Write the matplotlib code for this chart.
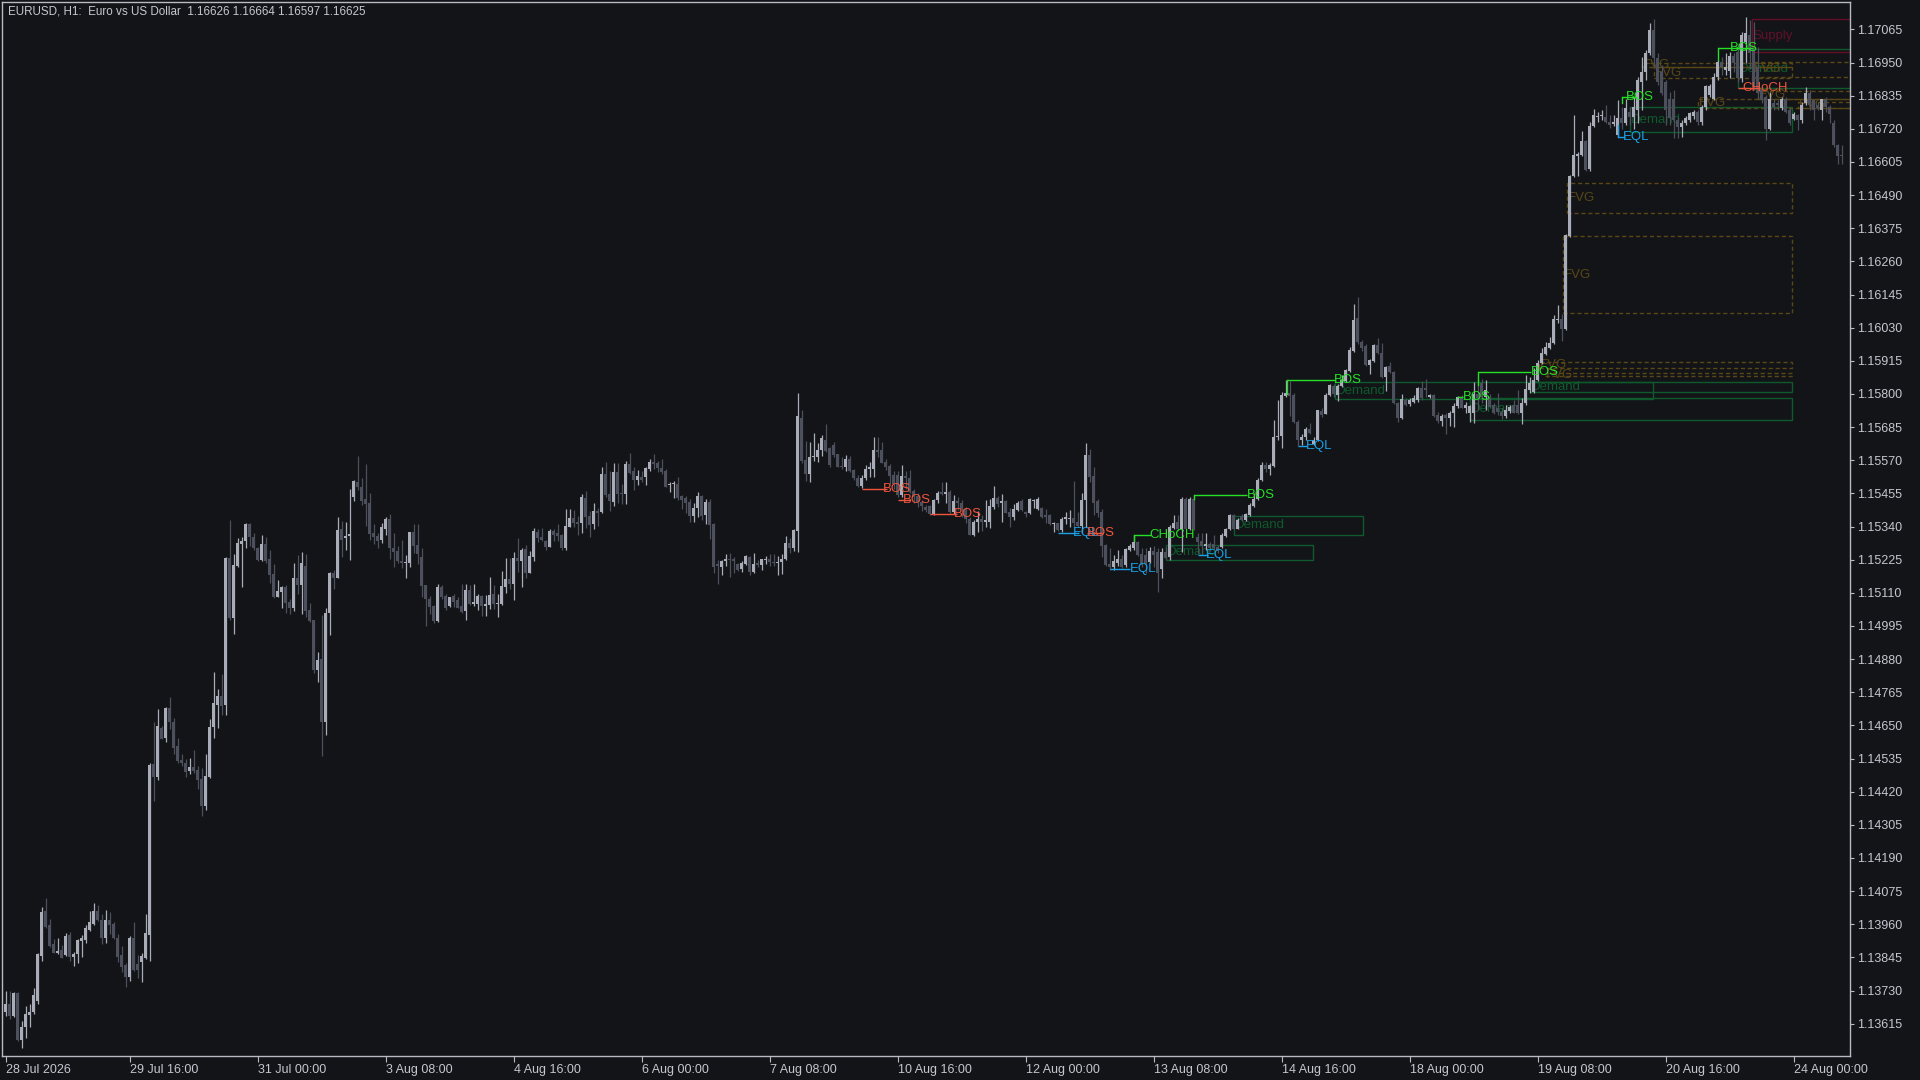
import matplotlib
matplotlib.use("Agg")
import matplotlib.pyplot as plt
import numpy as np
import pandas as pd
from matplotlib.patches import Rectangle

# ---------------- data ----------------
symbol_title = "EURUSD, H1:  Euro vs US Dollar  1.16626 1.16664 1.16597 1.16625"
first_bar_time = "2026-07-28 09:00"

opens = [
 1.13654, 1.13683, 1.13642, 1.13722, 1.13559, 1.13602, 1.13645, 1.13654, 1.13694, 1.13850,
 1.14005, 1.13958, 1.13892, 1.13861, 1.13871, 1.13852, 1.13923, 1.13846, 1.13858, 1.13903,
 1.13905, 1.13939, 1.13960, 1.14005, 1.13976, 1.13911, 1.13974, 1.13960, 1.13914, 1.13852,
 1.13818, 1.13778, 1.13914, 1.13821, 1.13828, 1.13844, 1.13923, 1.14515, 1.14471, 1.14642,
 1.14608, 1.14711, 1.14661, 1.14577, 1.14531, 1.14521, 1.14493, 1.14505, 1.14494, 1.14463,
 1.14369, 1.14472, 1.14643, 1.14720, 1.14752, 1.14720, 1.15231, 1.15023, 1.15203, 1.15281,
 1.15291, 1.15348, 1.15304, 1.15264, 1.15223, 1.15281, 1.15229, 1.15175, 1.15096, 1.15114,
 1.15129, 1.15077, 1.15059, 1.15163, 1.15137, 1.15203, 1.15050, 1.15015, 1.14844, 1.14879,
 1.14662, 1.15041, 1.15180, 1.15163, 1.15330, 1.15299, 1.15307, 1.15443, 1.15495, 1.15478,
 1.15434, 1.15422, 1.15316, 1.15307, 1.15293, 1.15333, 1.15365, 1.15267, 1.15256, 1.15221,
 1.15214, 1.15214, 1.15322, 1.15276, 1.15235, 1.15137, 1.15087, 1.15064, 1.15013, 1.15131,
 1.15099, 1.15064, 1.15099, 1.15085, 1.15064, 1.15048, 1.15120, 1.15071, 1.15071, 1.15099,
 1.15064, 1.15068, 1.15106, 1.15071, 1.15071, 1.15129, 1.15157, 1.15140, 1.15230, 1.15221,
 1.15261, 1.15180, 1.15235, 1.15322, 1.15305, 1.15291, 1.15270, 1.15326, 1.15319, 1.15311,
 1.15264, 1.15339, 1.15368, 1.15357, 1.15353, 1.15438, 1.15376, 1.15349, 1.15395, 1.15391,
 1.15522, 1.15453, 1.15426, 1.15530, 1.15457, 1.15453, 1.15557, 1.15534, 1.15501, 1.15511,
 1.15513, 1.15538, 1.15565, 1.15562, 1.15542, 1.15534, 1.15484, 1.15488, 1.15488, 1.15446,
 1.15438, 1.15426, 1.15376, 1.15403, 1.15445, 1.15379, 1.15426, 1.15348, 1.15209, 1.15200,
 1.15221, 1.15229, 1.15226, 1.15209, 1.15191, 1.15209, 1.15235, 1.15183, 1.15212, 1.15206,
 1.15223, 1.15229, 1.15217, 1.15214, 1.15217, 1.15229, 1.15283, 1.15264, 1.15325, 1.15718,
 1.15570, 1.15522, 1.15580, 1.15582, 1.15605, 1.15642, 1.15611, 1.15622, 1.15591, 1.15550,
 1.15545, 1.15576, 1.15536, 1.15510, 1.15480, 1.15507, 1.15541, 1.15541, 1.15605, 1.15605,
 1.15565, 1.15550, 1.15518, 1.15518, 1.15449, 1.15515, 1.15510, 1.15464, 1.15445, 1.15426,
 1.15408, 1.15411, 1.15384, 1.15432, 1.15461, 1.15453, 1.15461, 1.15392, 1.15427, 1.15423,
 1.15400, 1.15365, 1.15311, 1.15357, 1.15365, 1.15357, 1.15357, 1.15407, 1.15438, 1.15421,
 1.15430, 1.15392, 1.15372, 1.15398, 1.15427, 1.15392, 1.15386, 1.15430, 1.15400, 1.15403,
 1.15380, 1.15380, 1.15349, 1.15351, 1.15328, 1.15365, 1.15365, 1.15369, 1.15357, 1.15342,
 1.15432, 1.15589, 1.15516, 1.15427, 1.15392, 1.15276, 1.15210, 1.15201, 1.15215, 1.15226,
 1.15207, 1.15259, 1.15265, 1.15288, 1.15245, 1.15241, 1.15218, 1.15256, 1.15250, 1.15194,
 1.15252, 1.15235, 1.15336, 1.15356, 1.15333, 1.15437, 1.15333, 1.15434, 1.15304, 1.15290,
 1.15272, 1.15281, 1.15281, 1.15269, 1.15269, 1.15306, 1.15330, 1.15379, 1.15333, 1.15376,
 1.15362, 1.15379, 1.15411, 1.15437, 1.15501, 1.15553, 1.15541, 1.15549, 1.15649, 1.15653,
 1.15792, 1.15802, 1.15796, 1.15703, 1.15642, 1.15651, 1.15680, 1.15628, 1.15640, 1.15741,
 1.15732, 1.15796, 1.15827, 1.15796, 1.15827, 1.15846, 1.15880, 1.15950, 1.16062, 1.15981,
 1.15966, 1.15900, 1.15915, 1.15969, 1.15943, 1.15860, 1.15897, 1.15877, 1.15767, 1.15715,
 1.15779, 1.15765, 1.15773, 1.15779, 1.15819, 1.15819, 1.15791, 1.15796, 1.15727, 1.15707,
 1.15727, 1.15715, 1.15733, 1.15758, 1.15791, 1.15753, 1.15735, 1.15735, 1.15800, 1.15837,
 1.15791, 1.15791, 1.15762, 1.15750, 1.15738, 1.15723, 1.15742, 1.15762, 1.15762, 1.15735,
 1.15767, 1.15814, 1.15808, 1.15848, 1.15906, 1.15939, 1.15958, 1.15976, 1.16057, 1.16059,
 1.16024, 1.16348, 1.16556, 1.16626, 1.16629, 1.16676, 1.16580, 1.16730, 1.16760, 1.16765,
 1.16760, 1.16745, 1.16737, 1.16699, 1.16759, 1.16739, 1.16780, 1.16762, 1.16785, 1.16883,
 1.16918, 1.16982, 1.17063, 1.16964, 1.16918, 1.16883, 1.16825, 1.16822, 1.16750, 1.16725,
 1.16739, 1.16750, 1.16764, 1.16779, 1.16744, 1.16794, 1.16837, 1.16825, 1.16901, 1.16953,
 1.16924, 1.16921, 1.16972, 1.16987, 1.16895, 1.17022, 1.17045, 1.16999, 1.16935, 1.16854,
 1.16829, 1.16721, 1.16810, 1.16810, 1.16791, 1.16825, 1.16785, 1.16753, 1.16768, 1.16750,
 1.16808, 1.16845, 1.16820, 1.16802, 1.16787, 1.16825, 1.16797, 1.16739, 1.16663, 1.16626,
]

highs = [
 1.13728, 1.13728, 1.13726, 1.13725, 1.13626, 1.13675, 1.13683, 1.13738, 1.13861, 1.14020,
 1.14051, 1.13980, 1.13910, 1.13914, 1.13889, 1.13930, 1.13933, 1.13865, 1.13910, 1.13923,
 1.13958, 1.14007, 1.14034, 1.14026, 1.13995, 1.14010, 1.14001, 1.13968, 1.13927, 1.13883,
 1.13824, 1.13921, 1.13968, 1.13852, 1.13859, 1.13995, 1.14518, 1.14661, 1.14707, 1.14649,
 1.14713, 1.14748, 1.14676, 1.14608, 1.14550, 1.14534, 1.14537, 1.14565, 1.14509, 1.14503,
 1.14550, 1.14674, 1.14837, 1.14775, 1.14827, 1.15236, 1.15364, 1.15244, 1.15302, 1.15304,
 1.15353, 1.15351, 1.15318, 1.15270, 1.15310, 1.15304, 1.15260, 1.15210, 1.15156, 1.15133,
 1.15137, 1.15090, 1.15214, 1.15241, 1.15252, 1.15244, 1.15075, 1.15015, 1.14904, 1.15033,
 1.15059, 1.15183, 1.15189, 1.15372, 1.15360, 1.15357, 1.15472, 1.15500, 1.15584, 1.15507,
 1.15557, 1.15455, 1.15348, 1.15316, 1.15353, 1.15372, 1.15383, 1.15316, 1.15272, 1.15295,
 1.15241, 1.15322, 1.15348, 1.15348, 1.15267, 1.15137, 1.15099, 1.15067, 1.15142, 1.15137,
 1.15105, 1.15096, 1.15105, 1.15096, 1.15142, 1.15140, 1.15137, 1.15140, 1.15106, 1.15102,
 1.15102, 1.15164, 1.15137, 1.15106, 1.15187, 1.15230, 1.15230, 1.15253, 1.15302, 1.15264,
 1.15276, 1.15256, 1.15334, 1.15330, 1.15334, 1.15295, 1.15330, 1.15330, 1.15349, 1.15314,
 1.15400, 1.15400, 1.15397, 1.15376, 1.15453, 1.15464, 1.15395, 1.15423, 1.15403, 1.15545,
 1.15565, 1.15534, 1.15562, 1.15562, 1.15488, 1.15569, 1.15596, 1.15545, 1.15536, 1.15534,
 1.15548, 1.15573, 1.15592, 1.15569, 1.15573, 1.15538, 1.15496, 1.15499, 1.15511, 1.15449,
 1.15446, 1.15434, 1.15420, 1.15461, 1.15449, 1.15434, 1.15437, 1.15351, 1.15223, 1.15225,
 1.15244, 1.15249, 1.15235, 1.15214, 1.15221, 1.15240, 1.15237, 1.15249, 1.15223, 1.15229,
 1.15237, 1.15246, 1.15244, 1.15237, 1.15246, 1.15307, 1.15302, 1.15330, 1.15804, 1.15746,
 1.15637, 1.15634, 1.15665, 1.15630, 1.15657, 1.15695, 1.15617, 1.15634, 1.15591, 1.15580,
 1.15588, 1.15584, 1.15541, 1.15518, 1.15518, 1.15553, 1.15564, 1.15649, 1.15649, 1.15634,
 1.15573, 1.15556, 1.15533, 1.15533, 1.15553, 1.15533, 1.15536, 1.15472, 1.15457, 1.15429,
 1.15414, 1.15414, 1.15435, 1.15465, 1.15496, 1.15496, 1.15467, 1.15450, 1.15444, 1.15432,
 1.15407, 1.15374, 1.15363, 1.15395, 1.15380, 1.15432, 1.15435, 1.15481, 1.15446, 1.15453,
 1.15432, 1.15403, 1.15418, 1.15427, 1.15435, 1.15395, 1.15438, 1.15435, 1.15444, 1.15407,
 1.15400, 1.15384, 1.15357, 1.15354, 1.15372, 1.15392, 1.15398, 1.15499, 1.15392, 1.15455,
 1.15629, 1.15608, 1.15548, 1.15435, 1.15400, 1.15280, 1.15265, 1.15241, 1.15259, 1.15241,
 1.15265, 1.15280, 1.15311, 1.15291, 1.15265, 1.15265, 1.15268, 1.15273, 1.15265, 1.15264,
 1.15269, 1.15345, 1.15379, 1.15379, 1.15441, 1.15443, 1.15443, 1.15449, 1.15316, 1.15316,
 1.15316, 1.15287, 1.15310, 1.15275, 1.15316, 1.15336, 1.15385, 1.15385, 1.15368, 1.15385,
 1.15387, 1.15420, 1.15455, 1.15510, 1.15564, 1.15564, 1.15559, 1.15711, 1.15778, 1.15807,
 1.15848, 1.15846, 1.15802, 1.15709, 1.15660, 1.15686, 1.15700, 1.15649, 1.15746, 1.15753,
 1.15804, 1.15834, 1.15834, 1.15836, 1.15865, 1.15885, 1.15964, 1.16112, 1.16135, 1.15987,
 1.15973, 1.15923, 1.15975, 1.15993, 1.15977, 1.15897, 1.15912, 1.15881, 1.15773, 1.15800,
 1.15785, 1.15785, 1.15796, 1.15825, 1.15846, 1.15851, 1.15800, 1.15800, 1.15738, 1.15730,
 1.15735, 1.15742, 1.15770, 1.15793, 1.15796, 1.15773, 1.15762, 1.15843, 1.15854, 1.15851,
 1.15848, 1.15800, 1.15767, 1.15802, 1.15750, 1.15762, 1.15762, 1.15779, 1.15814, 1.15785,
 1.15866, 1.15858, 1.15889, 1.15918, 1.15958, 1.15981, 1.15999, 1.16074, 1.16109, 1.16078,
 1.16355, 1.16560, 1.16768, 1.16641, 1.16714, 1.16681, 1.16742, 1.16788, 1.16780, 1.16786,
 1.16803, 1.16768, 1.16768, 1.16820, 1.16797, 1.16825, 1.16797, 1.16829, 1.16901, 1.16970,
 1.16993, 1.17088, 1.17100, 1.16982, 1.16941, 1.16889, 1.16848, 1.16854, 1.16762, 1.16752,
 1.16764, 1.16779, 1.16785, 1.16785, 1.16802, 1.16872, 1.16875, 1.16912, 1.16958, 1.16970,
 1.16982, 1.16987, 1.16984, 1.17016, 1.17057, 1.17109, 1.17097, 1.17092, 1.17005, 1.16866,
 1.16837, 1.16848, 1.16825, 1.16820, 1.16831, 1.16829, 1.16791, 1.16779, 1.16773, 1.16814,
 1.16866, 1.16854, 1.16825, 1.16814, 1.16825, 1.16829, 1.16802, 1.16750, 1.16669, 1.16664,
]

lows = [
 1.13642, 1.13633, 1.13638, 1.13555, 1.13530, 1.13567, 1.13604, 1.13650, 1.13683, 1.13834,
 1.13948, 1.13880, 1.13859, 1.13856, 1.13842, 1.13850, 1.13834, 1.13815, 1.13824, 1.13848,
 1.13896, 1.13937, 1.13958, 1.13972, 1.13893, 1.13896, 1.13927, 1.13908, 1.13828, 1.13794,
 1.13741, 1.13762, 1.13799, 1.13772, 1.13759, 1.13840, 1.13834, 1.14389, 1.14459, 1.14602,
 1.14592, 1.14639, 1.14552, 1.14518, 1.14509, 1.14472, 1.14482, 1.14484, 1.14428, 1.14335,
 1.14357, 1.14468, 1.14608, 1.14642, 1.14686, 1.14686, 1.15017, 1.14967, 1.15199, 1.15131,
 1.15267, 1.15272, 1.15260, 1.15221, 1.15221, 1.15214, 1.15145, 1.15092, 1.15094, 1.15056,
 1.15041, 1.15038, 1.15048, 1.15105, 1.15038, 1.15027, 1.15009, 1.14832, 1.14801, 1.14543,
 1.14616, 1.14963, 1.15122, 1.15160, 1.15235, 1.15260, 1.15223, 1.15430, 1.15466, 1.15414,
 1.15341, 1.15295, 1.15279, 1.15264, 1.15284, 1.15310, 1.15226, 1.15200, 1.15214, 1.15195,
 1.15160, 1.15200, 1.15249, 1.15210, 1.15094, 1.14994, 1.15036, 1.15006, 1.15009, 1.15087,
 1.15052, 1.15061, 1.15061, 1.15056, 1.15041, 1.15015, 1.15068, 1.15064, 1.15050, 1.15029,
 1.15029, 1.15053, 1.15053, 1.15027, 1.15068, 1.15108, 1.15125, 1.15085, 1.15183, 1.15129,
 1.15160, 1.15178, 1.15221, 1.15287, 1.15291, 1.15258, 1.15268, 1.15291, 1.15291, 1.15258,
 1.15258, 1.15337, 1.15337, 1.15311, 1.15319, 1.15334, 1.15305, 1.15330, 1.15342, 1.15388,
 1.15444, 1.15395, 1.15411, 1.15420, 1.15418, 1.15418, 1.15522, 1.15467, 1.15484, 1.15496,
 1.15484, 1.15534, 1.15538, 1.15530, 1.15522, 1.15476, 1.15461, 1.15438, 1.15432, 1.15400,
 1.15386, 1.15357, 1.15357, 1.15372, 1.15362, 1.15348, 1.15298, 1.15179, 1.15140, 1.15171,
 1.15202, 1.15165, 1.15179, 1.15186, 1.15183, 1.15206, 1.15171, 1.15179, 1.15200, 1.15188,
 1.15209, 1.15202, 1.15202, 1.15171, 1.15175, 1.15223, 1.15249, 1.15256, 1.15252, 1.15559,
 1.15499, 1.15495, 1.15568, 1.15565, 1.15584, 1.15599, 1.15545, 1.15580, 1.15545, 1.15538,
 1.15533, 1.15530, 1.15501, 1.15478, 1.15475, 1.15503, 1.15512, 1.15512, 1.15582, 1.15559,
 1.15536, 1.15487, 1.15472, 1.15443, 1.15443, 1.15472, 1.15455, 1.15422, 1.15408, 1.15394,
 1.15391, 1.15380, 1.15380, 1.15423, 1.15450, 1.15421, 1.15386, 1.15384, 1.15398, 1.15372,
 1.15354, 1.15311, 1.15307, 1.15322, 1.15326, 1.15340, 1.15334, 1.15400, 1.15407, 1.15357,
 1.15386, 1.15337, 1.15361, 1.15395, 1.15395, 1.15374, 1.15384, 1.15403, 1.15398, 1.15369,
 1.15351, 1.15346, 1.15322, 1.15326, 1.15322, 1.15349, 1.15340, 1.15340, 1.15337, 1.15317,
 1.15340, 1.15496, 1.15380, 1.15374, 1.15233, 1.15203, 1.15189, 1.15189, 1.15203, 1.15195,
 1.15201, 1.15256, 1.15259, 1.15238, 1.15201, 1.15178, 1.15215, 1.15201, 1.15114, 1.15163,
 1.15229, 1.15225, 1.15333, 1.15325, 1.15252, 1.15330, 1.15327, 1.15327, 1.15246, 1.15240,
 1.15260, 1.15256, 1.15258, 1.15249, 1.15264, 1.15304, 1.15327, 1.15330, 1.15330, 1.15360,
 1.15360, 1.15376, 1.15408, 1.15431, 1.15498, 1.15530, 1.15518, 1.15547, 1.15642, 1.15614,
 1.15788, 1.15723, 1.15700, 1.15619, 1.15622, 1.15642, 1.15660, 1.15622, 1.15637, 1.15721,
 1.15730, 1.15792, 1.15790, 1.15776, 1.15825, 1.15842, 1.15877, 1.15946, 1.15975, 1.15950,
 1.15897, 1.15871, 1.15912, 1.15940, 1.15857, 1.15811, 1.15874, 1.15765, 1.15704, 1.15712,
 1.15758, 1.15758, 1.15770, 1.15773, 1.15779, 1.15788, 1.15785, 1.15721, 1.15700, 1.15689,
 1.15661, 1.15689, 1.15684, 1.15753, 1.15750, 1.15735, 1.15704, 1.15698, 1.15744, 1.15767,
 1.15744, 1.15750, 1.15730, 1.15727, 1.15712, 1.15715, 1.15735, 1.15733, 1.15730, 1.15696,
 1.15762, 1.15805, 1.15802, 1.15846, 1.15904, 1.15935, 1.15955, 1.15973, 1.16045, 1.15985,
 1.16022, 1.16346, 1.16552, 1.16556, 1.16626, 1.16575, 1.16575, 1.16725, 1.16745, 1.16751,
 1.16739, 1.16722, 1.16730, 1.16693, 1.16721, 1.16733, 1.16733, 1.16721, 1.16739, 1.16785,
 1.16889, 1.16976, 1.16935, 1.16872, 1.16837, 1.16733, 1.16733, 1.16687, 1.16687, 1.16692,
 1.16733, 1.16744, 1.16755, 1.16733, 1.16733, 1.16785, 1.16830, 1.16820, 1.16889, 1.16906,
 1.16906, 1.16895, 1.16918, 1.16883, 1.16883, 1.16947, 1.16929, 1.16854, 1.16825, 1.16808,
 1.16681, 1.16715, 1.16785, 1.16785, 1.16785, 1.16776, 1.16733, 1.16750, 1.16715, 1.16741,
 1.16802, 1.16785, 1.16750, 1.16785, 1.16750, 1.16779, 1.16739, 1.16658, 1.16597, 1.16597,
]

closes = [
 1.13683, 1.13642, 1.13722, 1.13559, 1.13602, 1.13648, 1.13654, 1.13714, 1.13856, 1.14001,
 1.13951, 1.13883, 1.13861, 1.13868, 1.13844, 1.13918, 1.13846, 1.13856, 1.13905, 1.13914,
 1.13948, 1.13968, 1.14007, 1.13976, 1.13914, 1.13974, 1.13958, 1.13914, 1.13846, 1.13813,
 1.13778, 1.13913, 1.13803, 1.13803, 1.13849, 1.13929, 1.14513, 1.14471, 1.14648, 1.14604,
 1.14711, 1.14661, 1.14573, 1.14528, 1.14519, 1.14488, 1.14505, 1.14493, 1.14462, 1.14369,
 1.14474, 1.14644, 1.14728, 1.14752, 1.14717, 1.15231, 1.15023, 1.15207, 1.15283, 1.15291,
 1.15348, 1.15304, 1.15267, 1.15223, 1.15281, 1.15221, 1.15171, 1.15094, 1.15116, 1.15129,
 1.15075, 1.15056, 1.15163, 1.15137, 1.15212, 1.15048, 1.15013, 1.14844, 1.14876, 1.14662,
 1.15041, 1.15180, 1.15163, 1.15328, 1.15295, 1.15307, 1.15313, 1.15498, 1.15478, 1.15429,
 1.15418, 1.15314, 1.15304, 1.15291, 1.15337, 1.15365, 1.15264, 1.15252, 1.15221, 1.15212,
 1.15218, 1.15322, 1.15272, 1.15244, 1.15133, 1.15087, 1.15062, 1.15013, 1.15131, 1.15096,
 1.15056, 1.15094, 1.15079, 1.15059, 1.15044, 1.15119, 1.15071, 1.15079, 1.15099, 1.15064,
 1.15071, 1.15102, 1.15071, 1.15076, 1.15134, 1.15157, 1.15140, 1.15230, 1.15221, 1.15258,
 1.15180, 1.15238, 1.15326, 1.15302, 1.15293, 1.15268, 1.15326, 1.15311, 1.15307, 1.15264,
 1.15342, 1.15368, 1.15353, 1.15349, 1.15444, 1.15372, 1.15345, 1.15395, 1.15388, 1.15522,
 1.15449, 1.15430, 1.15530, 1.15453, 1.15453, 1.15557, 1.15527, 1.15501, 1.15515, 1.15501,
 1.15542, 1.15565, 1.15557, 1.15542, 1.15530, 1.15478, 1.15488, 1.15492, 1.15438, 1.15432,
 1.15423, 1.15376, 1.15403, 1.15446, 1.15376, 1.15426, 1.15345, 1.15200, 1.15202, 1.15221,
 1.15229, 1.15223, 1.15221, 1.15188, 1.15212, 1.15237, 1.15183, 1.15209, 1.15206, 1.15226,
 1.15229, 1.15217, 1.15214, 1.15217, 1.15229, 1.15283, 1.15264, 1.15327, 1.15723, 1.15568,
 1.15522, 1.15580, 1.15584, 1.15605, 1.15646, 1.15603, 1.15553, 1.15588, 1.15545, 1.15545,
 1.15576, 1.15533, 1.15507, 1.15480, 1.15507, 1.15541, 1.15545, 1.15605, 1.15599, 1.15561,
 1.15545, 1.15515, 1.15487, 1.15449, 1.15515, 1.15507, 1.15460, 1.15441, 1.15426, 1.15411,
 1.15397, 1.15384, 1.15432, 1.15455, 1.15453, 1.15461, 1.15392, 1.15427, 1.15421, 1.15400,
 1.15365, 1.15311, 1.15357, 1.15365, 1.15357, 1.15361, 1.15411, 1.15438, 1.15418, 1.15427,
 1.15388, 1.15372, 1.15400, 1.15423, 1.15398, 1.15384, 1.15435, 1.15432, 1.15435, 1.15374,
 1.15374, 1.15349, 1.15351, 1.15328, 1.15365, 1.15372, 1.15369, 1.15351, 1.15342, 1.15432,
 1.15589, 1.15513, 1.15423, 1.15388, 1.15273, 1.15207, 1.15201, 1.15222, 1.15226, 1.15201,
 1.15261, 1.15273, 1.15288, 1.15241, 1.15207, 1.15210, 1.15256, 1.15241, 1.15178, 1.15252,
 1.15232, 1.15339, 1.15353, 1.15330, 1.15437, 1.15333, 1.15434, 1.15330, 1.15287, 1.15272,
 1.15281, 1.15264, 1.15264, 1.15256, 1.15310, 1.15333, 1.15379, 1.15333, 1.15364, 1.15362,
 1.15383, 1.15414, 1.15437, 1.15503, 1.15553, 1.15538, 1.15553, 1.15651, 1.15653, 1.15796,
 1.15802, 1.15792, 1.15703, 1.15642, 1.15651, 1.15680, 1.15665, 1.15642, 1.15744, 1.15726,
 1.15796, 1.15830, 1.15799, 1.15827, 1.15850, 1.15883, 1.15952, 1.16058, 1.15981, 1.15958,
 1.15900, 1.15917, 1.15969, 1.15943, 1.15860, 1.15892, 1.15877, 1.15767, 1.15715, 1.15781,
 1.15762, 1.15779, 1.15785, 1.15819, 1.15785, 1.15814, 1.15796, 1.15723, 1.15707, 1.15723,
 1.15715, 1.15735, 1.15758, 1.15791, 1.15753, 1.15762, 1.15758, 1.15800, 1.15785, 1.15791,
 1.15814, 1.15756, 1.15735, 1.15738, 1.15723, 1.15744, 1.15756, 1.15735, 1.15733, 1.15770,
 1.15816, 1.15839, 1.15848, 1.15909, 1.15941, 1.15962, 1.15976, 1.16059, 1.16059, 1.16024,
 1.16352, 1.16556, 1.16629, 1.16633, 1.16676, 1.16577, 1.16730, 1.16768, 1.16765, 1.16768,
 1.16742, 1.16734, 1.16742, 1.16757, 1.16739, 1.16791, 1.16762, 1.16797, 1.16889, 1.16918,
 1.16982, 1.17063, 1.16964, 1.16883, 1.16843, 1.16785, 1.16756, 1.16750, 1.16725, 1.16741,
 1.16756, 1.16776, 1.16779, 1.16744, 1.16794, 1.16868, 1.16868, 1.16901, 1.16953, 1.16935,
 1.16935, 1.16972, 1.16947, 1.16895, 1.17045, 1.17051, 1.16982, 1.16866, 1.16843, 1.16820,
 1.16721, 1.16825, 1.16797, 1.16802, 1.16822, 1.16779, 1.16739, 1.16773, 1.16750, 1.16802,
 1.16843, 1.16802, 1.16785, 1.16791, 1.16822, 1.16797, 1.16773, 1.16663, 1.16625, 1.16625,
]

x_tick_labels = ["28 Jul 2026", "29 Jul 16:00", "31 Jul 00:00", "3 Aug 08:00", "4 Aug 16:00",
                 "6 Aug 00:00", "7 Aug 08:00", "10 Aug 16:00", "12 Aug 00:00", "13 Aug 08:00",
                 "14 Aug 16:00", "18 Aug 00:00", "19 Aug 08:00", "20 Aug 16:00", "24 Aug 00:00"]
x_tick_times = ["2026-07-28 09:00", "2026-07-29 16:00", "2026-07-31 00:00", "2026-08-03 08:00",
                "2026-08-04 16:00", "2026-08-06 00:00", "2026-08-07 08:00", "2026-08-10 16:00",
                "2026-08-12 00:00", "2026-08-13 08:00", "2026-08-14 16:00", "2026-08-18 00:00",
                "2026-08-19 08:00", "2026-08-20 16:00", "2026-08-24 00:00"]
y_tick_first, y_tick_step, y_tick_count = 1.13615, 0.00115, 31

# market-structure marks (bar positions are in bar-index units)
struct_text  = ["BOS", "BOS", "BOS", "EQL", "BOS", "CHoCH", "EQL", "EQL", "BOS", "EQL",
                "BOS", "BOS", "BOS", "EQL", "BOS", "BOS", "CHoCH"]
struct_kind  = ["bear", "bear", "bear", "eql", "bear", "bull", "eql", "eql", "bull", "eql",
                "bull", "bull", "bull", "eql", "bull", "bull", "bear"]
struct_from  = [214.1, 223.1, 231.1, 263.1, 270.4, 282.1, 276.1, 298.1, 297.1, 323.1,
                320.4, 362.9, 368.1, 403.1, 404.1, 428.1, 433.1]
struct_to    = [220.4, 226.1, 237.9, 268.4, 274.1, 286.4, 281.0, 300.6, 310.4, 325.4,
                332.4, 364.4, 381.4, 404.9, 407.9, 436.9, 438.6]
struct_price = [1.15472, 1.15431, 1.15383, 1.15317, 1.15317, 1.15311, 1.15193, 1.15243, 1.15451, 1.15619,
                1.15850, 1.15791, 1.15877, 1.16692, 1.16831, 1.17001, 1.16860]
struct_hook  = [1.15472, 1.15431, 1.15383, 1.15317, 1.15317, 1.15290, 1.15193, 1.15243, 1.15437, 1.15619,
                1.15801, 1.15791, 1.15830, 1.16733, 1.16808, 1.16958, 1.16860]
struct_label_at = [219.4, 224.4, 237.1, 266.9, 270.4, 285.9, 281.1, 300.1, 310.4, 325.1,
                   332.1, 364.4, 381.4, 404.4, 405.1, 431.1, 434.1]

# zones
zone_kind = ["Demand", "Demand", "Demand", "Demand", "Demand", "Demand", "Demand",
             "FVG", "FVG", "FVG", "FVG", "FVG", "FVG", "FVG", "FVG", "FVG", "FVG", "Supply"]
zone_from = [290.1, 307.1, 332.4, 366.1, 381.1, 406.1, 433.1,
             383.4, 384.9, 389.4, 390.4, 409.1, 412.1, 423.1, 436.9, 438.1, 448.1, 436.6]
zone_to   = [326.9, 339.4, 411.9, 446.5, 446.5, 446.5, 461.5,
             446.5, 446.5, 446.5, 446.5, 446.5, 446.5, 461.5, 461.5, 461.5, 461.5, 461.5]
zone_low  = [1.15223, 1.15312, 1.15784, 1.15710, 1.15806, 1.16710, 1.16860,
             1.15889, 1.15862, 1.16080, 1.16427, 1.16933, 1.16895, 1.16791, 1.16901, 1.16825, 1.16791, 1.16985]
zone_high = [1.15277, 1.15378, 1.15840, 1.15785, 1.15840, 1.16794, 1.16998,
             1.15910, 1.15872, 1.16348, 1.16531, 1.16950, 1.16933, 1.16825, 1.16951, 1.16850, 1.16814, 1.17100]

# ---------------- styling ----------------
BG = "#131418"
FG = "#c4c7cf"
FRAME = "#b8bbc2"
BULL = "#a9adb8"
BEAR = "#4b505c"
KIND_COLOR = {"bull": "#26e026", "bear": "#f0553c", "eql": "#19a0e6"}
ZONE_COLOR = {"Demand": "#0e5a2c", "FVG": "#5a4716", "Supply": "#62102a"}
FONT = ["Liberation Sans", "DejaVu Sans"]
plt.rcParams["font.family"] = FONT

W, H = 1920, 1080
fig = plt.figure(figsize=(W / 100, H / 100), dpi=100, facecolor=BG)
ax = fig.add_axes([2 / W, 24 / H, 1848 / W, 1054 / H])
ax.set_facecolor(BG)

o = np.array(opens); h = np.array(highs); l = np.array(lows); c = np.array(closes)
n = len(o)
times = pd.date_range(first_bar_time, periods=n * 2, freq="h")
times = times[times.dayofweek < 5][:n]
x = np.arange(n)

up = c >= o
colors = np.where(up, BULL, BEAR)
ax.vlines(x, l, h, colors=colors, linewidth=0.9, zorder=2)
body_lo = np.minimum(o, c)
body_h = np.maximum(np.abs(c - o), 0.00003)
ax.bar(x, body_h, bottom=body_lo, width=0.72, color=colors, linewidth=0, zorder=2.1)

# zones
for k, x0, x1, lo, hi in zip(zone_kind, zone_from, zone_to, zone_low, zone_high):
    col = ZONE_COLOR[k]
    ls = (0, (3, 2)) if k == "FVG" else "-"
    ax.add_patch(Rectangle((x0, lo), x1 - x0, hi - lo, fill=False, edgecolor=col,
                           linewidth=1.0, linestyle=ls, zorder=1))
    ax.text(x0 + 0.2, (lo + hi) / 2, k, color=col, fontsize=9.5, va="center", ha="left",
            zorder=1, clip_on=True)

# structure marks
for t, kd, x0, x1, p, hk, tx in zip(struct_text, struct_kind, struct_from, struct_to,
                                     struct_price, struct_hook, struct_label_at):
    col = KIND_COLOR[kd]
    ax.plot([x0, x1], [p, p], color=col, linewidth=1.0, zorder=3, solid_capstyle="butt")
    if hk != p:
        ax.plot([x0, x0], [p, hk], color=col, linewidth=1.0, zorder=3)
    ax.text(tx, p, t, color=col, fontsize=9.5, va="center", ha="left", zorder=4, clip_on=True)

# axes
ax.set_xlim(-0.875, 461.1)
ax.set_ylim(1.13503, 1.17160)
for s in ax.spines.values():
    s.set_color(FRAME)
    s.set_linewidth(1.0)

ax.yaxis.tick_right()
yt = np.round(y_tick_first + y_tick_step * np.arange(y_tick_count), 5)
ax.set_yticks(yt)
ax.set_yticklabels([f"{v:.5f}" for v in yt])
tick_pos = [times.get_loc(pd.Timestamp(t)) for t in x_tick_times]
ax.set_xticks(tick_pos)
ax.set_xticklabels(x_tick_labels)
for lbl in ax.get_xticklabels():
    lbl.set_horizontalalignment("left")
ax.tick_params(axis="y", direction="out", length=3, width=0.8, color=FRAME,
               labelcolor=FG, labelsize=9, pad=2)
ax.tick_params(axis="x", direction="out", length=4, width=0.8, color=FRAME,
               labelcolor=FG, labelsize=9, pad=1.5)

fig.text(8 / W, 1 - 11 / H, symbol_title, color=FG, fontsize=8.4, va="center", ha="left")

fig.savefig("out.png", dpi=100, facecolor=BG)
